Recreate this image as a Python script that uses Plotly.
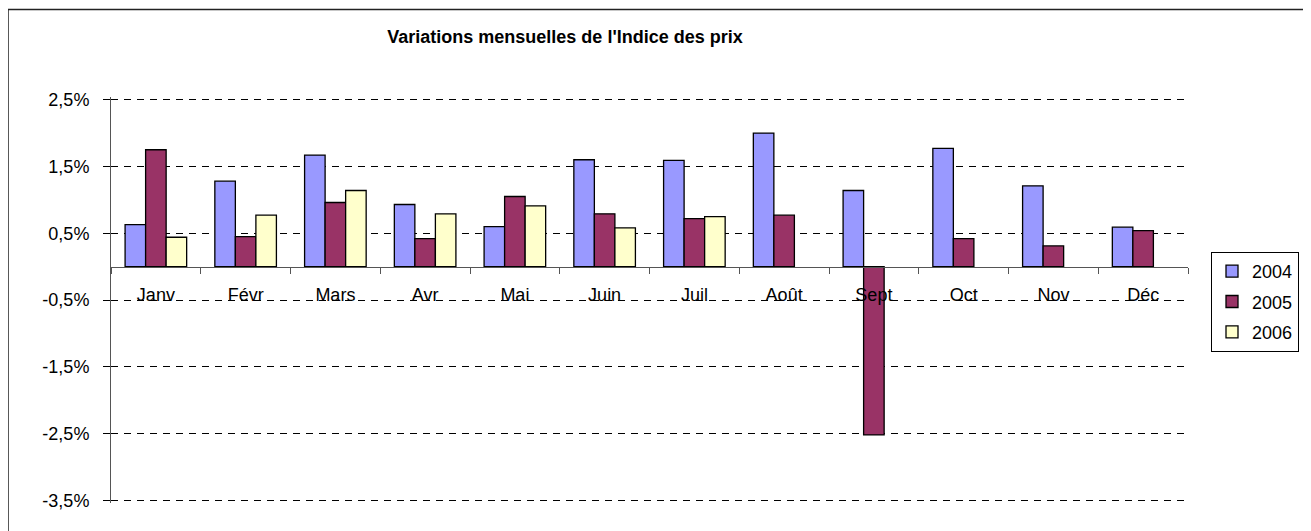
import plotly.graph_objects as go

months = ["Janv", "Févr", "Mars", "Avr", "Mai", "Juin", "Juil", "Août", "Sept", "Oct", "Nov", "Déc"]
v2004 = [0.63, 1.28, 1.67, 0.93, 0.60, 1.60, 1.59, 2.00, 1.14, 1.77, 1.21, 0.59]
v2005 = [1.75, 0.45, 0.96, 0.42, 1.05, 0.79, 0.72, 0.77, -2.52, 0.42, 0.31, 0.54]
v2006 = [0.44, 0.77, 1.14, 0.79, 0.91, 0.58, 0.75, None, None, None, None, None]
series_names = ["2004", "2005", "2006"]
series_colors = ["#9999FF", "#993366", "#FFFFCC"]
ytick_vals = [2.5, 1.5, 0.5, -0.5, -1.5, -2.5, -3.5]
ytick_text = ["2,5%", "1,5%", "0,5%", "-0,5%", "-1,5%", "-2,5%", "-3,5%"]
title_text = "Variations mensuelles de l'Indice des prix"

FONT = "Liberation Sans, Arial, sans-serif"

fig = go.Figure()
for name, vals, col in zip(series_names, [v2004, v2005, v2006], series_colors):
    fig.add_trace(go.Bar(
        x=months, y=vals, name=name,
        marker=dict(color=col, line=dict(color="black", width=1.3)),
        legendgroup=name,
    ))

# page body has an 8px margin: work in page coordinates, offset by 8
OFF = 8
W, H = 1311 - OFF, 531 - OFF
PAD = 0.04
ymin, ymax = -3.5 - PAD, 2.5 + PAD
PX_PER_UNIT = 66.7
top_px = 100 - PAD * PX_PER_UNIT
bot_px = 500 + PAD * PX_PER_UNIT
L = 111 - OFF
R = 1311 - 1188
T = top_px - OFF
B = 531 - bot_px
pw = W - L - R
ph = H - T - B

def px_x(px):
    return (px - OFF - L) / pw

def px_y(py):
    return (H - B - (py - OFF)) / ph

zero_pos = (0 - ymin) / (ymax - ymin)

fig.update_layout(
    width=W, height=H,
    margin=dict(l=L, r=R, t=T, b=B, pad=0),
    paper_bgcolor="white", plot_bgcolor="white",
    barmode="group", bargap=0.314, bargroupgap=0,
    font=dict(family=FONT, size=18, color="black"),
    title=dict(
        text="<b>" + title_text + "</b>",
        font=dict(family=FONT, size=18, color="black"),
        xref="paper", x=px_x(565), xanchor="center",
        yref="container", y=1 - (37 - OFF) / H, yanchor="middle",
    ),
    showlegend=True,
    legend=dict(
        x=px_x(1211), y=px_y(252), xanchor="left", yanchor="top",
        bordercolor="black", borderwidth=1, bgcolor="white",
        font=dict(family=FONT, size=18, color="black"),
        tracegroupgap=4, itemwidth=30,
    ),
    xaxis=dict(
        type="category",
        anchor="free", position=zero_pos,
        showline=True, linecolor="#555555", linewidth=1,
        ticks="outside", tickson="boundaries", ticklen=6, tickcolor="#555555",
        ticklabelstandoff=12,
        showgrid=False, zeroline=False,
        tickfont=dict(family=FONT, size=18, color="black"),
    ),
    yaxis=dict(
        range=[ymin, ymax],
        tickvals=ytick_vals, ticktext=ytick_text,
        showline=True, linecolor="#555555", linewidth=1,
        ticks="outside", ticklen=7, tickcolor="black",
        ticklabelstandoff=10,
        showgrid=True, gridcolor="black", gridwidth=1, griddash="7px,6px",
        zeroline=False,
        tickfont=dict(family=FONT, size=18, color="black"),
    ),
    shapes=[dict(
        type="rect", xref="paper", yref="paper",
        x0=px_x(8), x1=px_x(1305), y0=px_y(580), y1=px_y(10),
        line=dict(color="#222222", width=1.5), fillcolor="rgba(0,0,0,0)", layer="below",
    )],
)

fig.write_html("out.html")
